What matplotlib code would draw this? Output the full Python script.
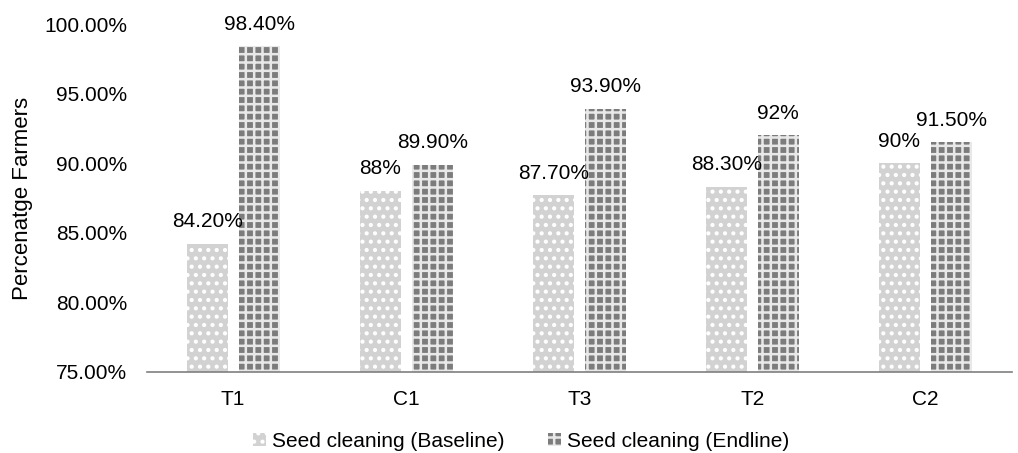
import matplotlib
matplotlib.use("Agg")
import matplotlib.pyplot as plt
import numpy as np

plt.rcParams['font.family'] = ['Liberation Sans', 'DejaVu Sans']
plt.rcParams['hatch.linewidth'] = 1.8

categories = ["T1", "C1", "T3", "T2", "C2"]
baseline = [84.2, 88.0, 87.7, 88.3, 90.0]
endline = [98.4, 89.9, 93.9, 92.0, 91.5]
baseline_labels = ["84.20%", "88%", "87.70%", "88.30%", "90%"]
endline_labels = ["98.40%", "89.90%", "93.90%", "92%", "91.50%"]
series_names = ["Seed cleaning (Baseline)", "Seed cleaning (Endline)"]
yticks = [75, 80, 85, 90, 95, 100]

FS = 15

fig = plt.figure(figsize=(10.18, 4.53), dpi=100)
ax = fig.add_axes([0.144, 0.179, 0.850, 0.768])

x = np.arange(len(categories))
w = 0.237
off = 0.15

b1 = ax.bar(x - off, baseline, w, color="#d2d2d2", edgecolor="white",
            linewidth=0, hatch="..", label=series_names[0])
b2 = ax.bar(x + off, endline, w, color="#7c7c7c", edgecolor="#e8e8e8",
            linewidth=0, hatch="++", label=series_names[1])

for xi, v, t in zip(x - off, baseline, baseline_labels):
    ax.text(xi, v + 0.9, t, ha="center", va="bottom", fontsize=FS)
for xi, v, t in zip(x + off, endline, endline_labels):
    ax.text(xi, v + 0.9, t, ha="center", va="bottom", fontsize=FS)

ax.set_xlim(-0.5, len(categories) - 0.5)
ax.set_ylim(75, 100)
ax.set_yticks(yticks)
ax.set_yticklabels([f"{t:.2f}%" for t in yticks], fontsize=FS)
ax.set_xticks(x)
ax.set_xticklabels(categories, fontsize=FS)
ax.tick_params(axis="y", length=0, pad=14)
ax.tick_params(axis="x", length=0, pad=13)
ax.set_ylabel("Percenatge Farmers", fontsize=16, labelpad=8)

for s in ["top", "right", "left"]:
    ax.spines[s].set_visible(False)
ax.spines["bottom"].set_color("#7f7f7f")
ax.spines["bottom"].set_linewidth(1.2)

fig.legend(handles=[b1, b2], loc="lower center", bbox_to_anchor=(0.512, -0.036),
           ncol=2, frameon=False, fontsize=FS, handlelength=0.6,
           handleheight=0.6, handletextpad=0.3, columnspacing=2.1)

fig.savefig("out.png", dpi=100)
